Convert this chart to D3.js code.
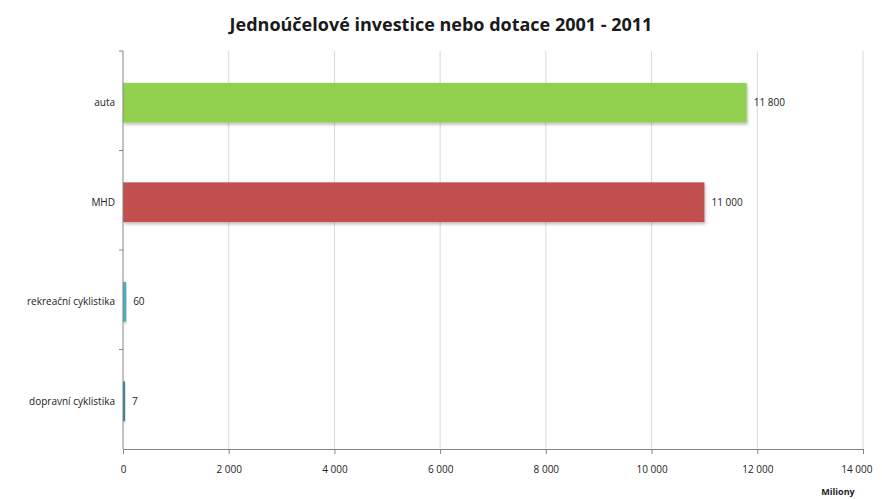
<!DOCTYPE html>
<html>
<head>
<meta charset="utf-8">
<script src="https://cdn.jsdelivr.net/npm/d3@7"></script>
<style>
  html, body { margin: 0; padding: 0; background: #fff; }
  svg { display: block; font-family: "Open Sans", "Liberation Sans", sans-serif; }
</style>
</head>
<body>
<svg id="chart" width="882" height="499"></svg>
<script>
// Data
const categories = ["auta", "MHD", "rekreační cyklistika", "dopravní cyklistika"];
const values = [11800, 11000, 60, 7];
const barColors = ["#92d050", "#c0504d", "#4bacc6", "#2f7ea6"];
const xTicks = [0, 2000, 4000, 6000, 8000, 10000, 12000, 14000];
const titleText = "Jednoúčelové investice nebo dotace 2001 - 2011";
const unitText = "Miliony";

const svg = d3.select("#chart");
const margin = { top: 51, left: 123, right: 19, bottom: 50 };
const W = 882, H = 499;
const plotW = W - margin.left - margin.right;
const plotH = H - margin.top - margin.bottom;

const fmt = v => d3.format(",")(v).replace(/,/g, " ");

const x = d3.scaleLinear().domain([0, 14000]).range([0, plotW]);
const y = d3.scaleBand().domain(categories).range([0, plotH]).paddingInner(0.6).paddingOuter(0.3);
const barShift = 2; // bars sit slightly below the band centre

const g = svg.append("g").attr("transform", `translate(${margin.left},${margin.top})`);

// Title
svg.append("text")
  .attr("x", 441).attr("y", 31)
  .attr("text-anchor", "middle")
  .attr("font-size", 18).attr("font-weight", "bold")
  .attr("fill", "#1a1a1a")
  .text(titleText);

// Vertical gridlines
g.append("g").selectAll("line").data(xTicks.slice(1)).join("line")
  .attr("x1", d => x(d)).attr("x2", d => x(d))
  .attr("y1", 0).attr("y2", plotH)
  .attr("stroke", "#d9d9d9").attr("stroke-width", 1);

// Soft shadow for bars
const defs = svg.append("defs");
const f = defs.append("filter").attr("id", "shadow").attr("x", "-5%").attr("y", "-20%").attr("width", "110%").attr("height", "150%");
f.append("feDropShadow").attr("dx", 1).attr("dy", 2).attr("stdDeviation", 1.5).attr("flood-color", "#000").attr("flood-opacity", 0.25);

// Bars
g.append("g").selectAll("rect").data(categories).join("rect")
  .attr("x", 0)
  .attr("y", d => y(d) + barShift)
  .attr("width", (d, i) => Math.max(2, x(values[i])))
  .attr("height", y.bandwidth())
  .attr("fill", (d, i) => barColors[i])
  .attr("filter", "url(#shadow)");

// Value labels
g.append("g").selectAll("text").data(categories).join("text")
  .attr("x", (d, i) => Math.max(2, x(values[i])) + 7)
  .attr("y", d => y(d) + barShift + y.bandwidth() / 2)
  .attr("dy", "0.35em")
  .attr("font-size", 10)
  .attr("fill", "#222")
  .text((d, i) => fmt(values[i]));

// X axis
const xAxis = g.append("g").attr("transform", `translate(0,${plotH})`)
  .call(d3.axisBottom(x).tickValues(xTicks).tickSize(5).tickSizeOuter(0).tickFormat(fmt));
xAxis.select(".domain").attr("stroke", "#868686");
xAxis.selectAll(".tick line").attr("stroke", "#868686");
xAxis.selectAll(".tick text").attr("font-size", 10).attr("fill", "#222").attr("dy", "1.6em")
  .attr("font-family", "\"Open Sans\", sans-serif");
xAxis.selectAll(".tick text").filter(d => d === 14000).attr("text-anchor", "end").attr("dx", 9);

// Y axis: category labels with separator ticks between bands
const yAxis = g.append("g");
yAxis.append("line").attr("x1", 0).attr("x2", 0).attr("y1", 0).attr("y2", plotH).attr("stroke", "#868686");
yAxis.selectAll("line.sep").data(d3.range(categories.length).map(i => i * y.step())).join("line")
  .attr("class", "sep")
  .attr("x1", -4).attr("x2", 0)
  .attr("y1", d => d).attr("y2", d => d)
  .attr("stroke", "#868686");
yAxis.selectAll("text").data(categories).join("text")
  .attr("x", -8)
  .attr("y", d => y(d) + barShift + y.bandwidth() / 2)
  .attr("dy", "0.35em")
  .attr("text-anchor", "end")
  .attr("font-size", 10)
  .attr("fill", "#222")
  .text(d => d);

// Unit label
svg.append("text")
  .attr("x", 838).attr("y", 495)
  .attr("text-anchor", "middle")
  .attr("font-size", 9).attr("font-weight", "bold")
  .attr("fill", "#222")
  .text(unitText);
</script>
</body>
</html>
